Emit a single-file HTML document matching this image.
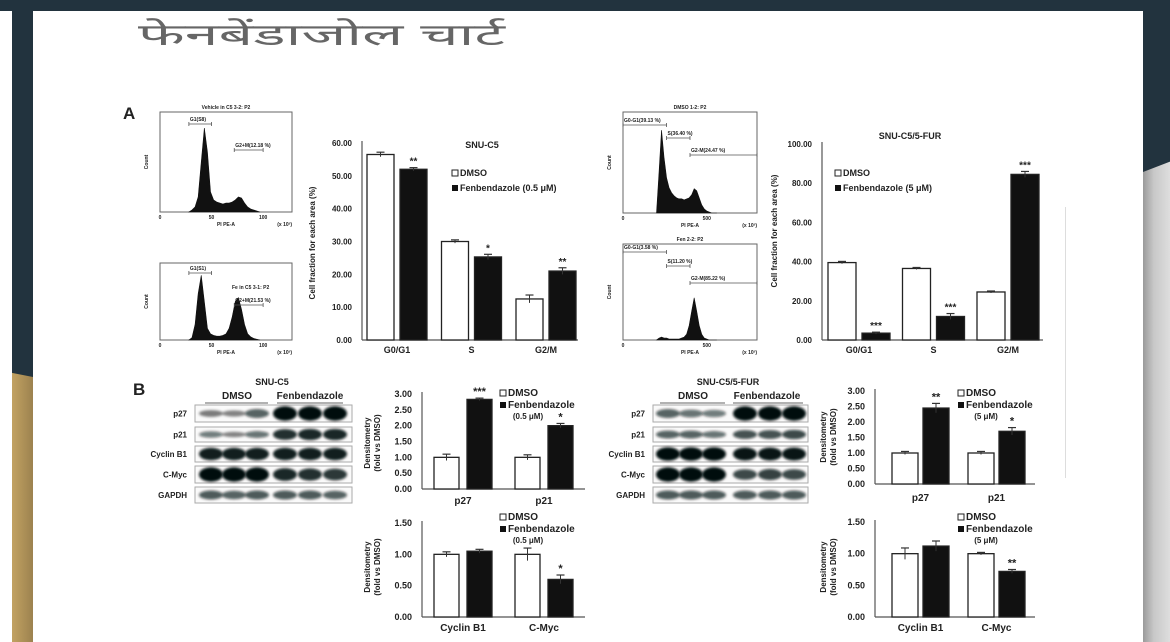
<!DOCTYPE html>
<html><head><meta charset="utf-8"><style>
html,body{margin:0;padding:0;width:1170px;height:642px;overflow:hidden;background:#fff}
#stage{position:relative;width:1170px;height:642px;background:#fff}
.abs{position:absolute}
svg text{font-family:"Liberation Sans",Arial,sans-serif;font-weight:bold;fill:#222}
</style></head><body>
<div id="stage">
  <div class="abs" style="left:0;top:0;width:1170px;height:11px;background:#22333e"></div>
  <div class="abs" style="left:12px;top:0;width:21px;height:642px;background:linear-gradient(90deg,#c2a262,#9c824f)"></div>
  <div class="abs" style="left:12px;top:0;width:21px;height:377px;background:#22333e;clip-path:polygon(0 0,100% 0,100% 100%,0 98.9%)"></div>
  <div class="abs" style="left:1143px;top:0;width:27px;height:642px;background:linear-gradient(90deg,#9a9a9a,#c8c8c8 40%,#dedede)"></div>
  <div class="abs" style="left:1143px;top:0;width:27px;height:172px;background:#22333e;clip-path:polygon(0 0,100% 0,100% 94%,0 100%)"></div>
  <div class="abs" style="left:1065px;top:207px;width:1px;height:271px;background:#ddd"></div>
  <svg id="fig" class="abs" style="left:0;top:0" width="1170" height="642">
    <defs><filter id="blur" x="-50%" y="-50%" width="200%" height="200%"><feGaussianBlur stdDeviation="1.3"/></filter></defs>
    <text x="138" y="45" style="font-family:'Liberation Sans','Noto Sans CJK SC',sans-serif;font-weight:normal;font-size:30px;fill:#666" textLength="367" lengthAdjust="spacingAndGlyphs">फेनबेंडाजोल चार्ट</text>
    <text x="123" y="119" font-size="17">A</text>
    <text x="133" y="395" font-size="17">B</text>
  </svg>
</div>
<script>
// ---------- data ----------
const cycleCategories=['G0/G1','S','G2/M'];
const a1Dmso=[56.5,30,12.5];
const a1DmsoErr=[0.7,0.5,1.2];
const a1Fen=[52,25.3,21];
const a1FenErr=[0.5,0.8,1.0];
const a1Sig=['**','*','**'];
const a1Ticks=[0,10,20,30,40,50,60];

const a2Dmso=[39.5,36.5,24.5];
const a2DmsoErr=[0.6,0.5,0.5];
const a2Fen=[3.5,12,84.5];
const a2FenErr=[0.5,1.5,1.5];
const a2Sig=['***','***','***'];
const a2Ticks=[0,20,40,60,80,100];

const bTopCategories=['p27','p21'];
const bBotCategories=['Cyclin B1','C-Myc'];
const bTopTicks=[0,0.5,1,1.5,2,2.5,3];
const bBotTicks=[0,0.5,1,1.5];

const b1Dmso=[1.0,1.0];
const b1DmsoErr=[0.1,0.08];
const b1Fen=[2.83,2.0];
const b1FenErr=[0.04,0.07];
const b1Sig=['***','*'];

const b2Dmso=[1.0,1.0];
const b2DmsoErr=[0.04,0.1];
const b2Fen=[1.05,0.6];
const b2FenErr=[0.03,0.07];
const b2Sig=['','*'];

const b3Dmso=[1.0,1.0];
const b3DmsoErr=[0.05,0.05];
const b3Fen=[2.45,1.7];
const b3FenErr=[0.15,0.12];
const b3Sig=['**','*'];

const b4Dmso=[1.0,1.0];
const b4DmsoErr=[0.09,0.02];
const b4Fen=[1.12,0.72];
const b4FenErr=[0.08,0.03];
const b4Sig=['','**'];

// flow histograms (relative counts, % of plot height)
const h1Counts=[0,2,5,15,50,84,60,20,12,10,9,8,9,9,10,12,15,14,9,5,3,2,1,0];
const h2Counts=[0,3,20,60,84,50,15,8,6,5,5,6,8,15,30,50,55,40,20,8,4,2,1,0];
const h3Counts=[0,40,82,55,35,25,20,17,15,14,14,13,14,15,18,24,22,15,8,4,2,1,0,0,0];
const h4Counts=[0,2,3,2,2,1,1,1,1,1,2,3,6,15,30,44,30,15,6,2,1,0,0,0,0];

// western blot band intensities (lanes 1-3 DMSO, 4-6 Fenbendazole)
const blotRows=['p27','p21','Cyclin B1','C-Myc','GAPDH'];
const blotC5=[[0.3,0.25,0.5,1,1,1],[0.35,0.25,0.4,0.8,0.85,0.85],[0.9,0.9,0.9,0.9,0.9,0.9],[1,1,1,0.85,0.8,0.75],[0.55,0.5,0.55,0.55,0.55,0.5]];
const blotFur=[[0.5,0.4,0.35,1,1,1],[0.5,0.5,0.4,0.6,0.6,0.65],[1,1,1,0.95,0.95,0.95],[1,1,1,0.65,0.7,0.65],[0.55,0.55,0.55,0.55,0.55,0.55]];

// ---------- drawing ----------
const NS='http://www.w3.org/2000/svg';
const svg=document.getElementById('fig');
function mk(tag,attrs,parent){const e=document.createElementNS(NS,tag);for(const k in attrs)e.setAttribute(k,attrs[k]);(parent||svg).appendChild(e);return e;}
function txt(x,y,s,size,anchor,parent){const t=mk('text',{x:x,y:y,'font-size':size,'text-anchor':anchor||'start'},parent);t.textContent=s;return t;}

function barChart(c){
  const g=mk('g',{});
  
  
  const yS=v=>c.baseY-(v/c.maxV)*(c.baseY-c.topY);
  const ax=mk('line',{x1:c.axisX,y1:yS(c.maxV)-2,x2:c.axisX,y2:c.baseY,stroke:'#555','stroke-width':1.2},g);
  
  
  const bx=mk('line',{x1:c.axisX,y1:c.baseY,x2:c.axisEnd,y2:c.baseY,stroke:'#555','stroke-width':1.2},g);
  
  
  c.ticks.forEach(t=>{
    const l=txt(c.axisX-10,yS(t)+3,t.toFixed(2),c.tickSize,'end',g);
    
    
  });
  c.cats.forEach((cat,i)=>{
    const x0=c.firstX+i*c.pitch, x1=x0+c.barW+c.gap;
    [[x0,c.dmso[i],c.dmsoErr[i],'#fff','dmso'],[x1,c.fen[i],c.fenErr[i],'#111','fen']].forEach(([x,v,e,f,k])=>{
      const r=mk('rect',{x:x,y:yS(v),width:c.barW,height:c.baseY-yS(v),fill:f,stroke:'#222','stroke-width':1.3},g);
      
      
      const cx=x+c.barW/2;
      mk('line',{x1:cx,y1:yS(v-e),x2:cx,y2:yS(v+e),stroke:'#333','stroke-width':1},g);
      mk('line',{x1:cx-4,y1:yS(v+e),x2:cx+4,y2:yS(v+e),stroke:'#333','stroke-width':1.2},g);
    });
    const s=c.sig[i];
    if(s){const st=txt(x1+c.barW/2,yS(c.fen[i]+c.fenErr[i])-3,s,c.tickSize+2,'middle',g);
      
      }
    const cl=txt(x0+c.barW+c.gap/2,c.baseY+c.catDy,cat,c.catSize,'middle',g);
    
    
  });
  if(c.title){const t=txt(c.titleX,c.titleY,c.title,c.tickSize+1,'middle',g);
    
    }
  const yt=mk('g',{transform:`translate(${c.yTitleX},${c.yTitleY}) rotate(-90)`},g);
  
  
  c.yTitle.forEach((line,j)=>txt(0,j*10,line,c.yTitleSize,'middle',yt));
  const lg=mk('g',{},g);
  
  
  mk('rect',{x:c.legX,y:c.legY-6,width:6,height:6,fill:'#fff',stroke:'#222','stroke-width':1},lg);
  txt(c.legX+8,c.legY,'DMSO',c.legSize,'start',lg);
  mk('rect',{x:c.legX,y:c.legY+c.legDy-6,width:6,height:6,fill:'#111'},lg);
  txt(c.legX+8,c.legY+c.legDy,c.legFen,c.legSize,'start',lg);
  if(c.legDose) txt(c.legX+28,c.legY+2*c.legDy-1,c.legDose,c.legSize-2,'middle',lg);
}

barChart({name:'chart-snu-c5-cell-cycle',axisX:362,baseY:340,topY:143,maxV:60,axisEnd:578,firstX:367,pitch:74.5,barW:27,gap:6,
  cats:cycleCategories,dmso:a1Dmso,dmsoErr:a1DmsoErr,fen:a1Fen,fenErr:a1FenErr,sig:a1Sig,ticks:a1Ticks,tickSize:8,catSize:9,catDy:13,
  title:'SNU-C5',titleX:482,titleY:148,yTitle:['Cell fraction for each area (%)'],yTitleX:315,yTitleY:243,yTitleSize:8,
  legX:452,legY:176,legDy:15,legFen:'Fenbendazole (0.5 μM)',legSize:9});
barChart({name:'chart-snu-c5-5fur-cell-cycle',axisX:822,baseY:340,topY:144,maxV:100,axisEnd:1043,firstX:828,pitch:74.5,barW:28,gap:6,
  cats:cycleCategories,dmso:a2Dmso,dmsoErr:a2DmsoErr,fen:a2Fen,fenErr:a2FenErr,sig:a2Sig,ticks:a2Ticks,tickSize:8,catSize:9,catDy:13,
  title:'SNU-C5/5-FUR',titleX:910,titleY:139,yTitle:['Cell fraction for each area (%)'],yTitleX:777,yTitleY:231,yTitleSize:8,
  legX:835,legY:176,legDy:15,legFen:'Fenbendazole (5 μM)',legSize:9});
barChart({name:'chart-snu-c5-p27-p21',axisX:422,baseY:489,topY:394,maxV:3,axisEnd:585,firstX:434,pitch:81,barW:25,gap:8,
  cats:bTopCategories,dmso:b1Dmso,dmsoErr:b1DmsoErr,fen:b1Fen,fenErr:b1FenErr,sig:b1Sig,ticks:bTopTicks,tickSize:9,catSize:10,catDy:15,
  yTitle:['Densitometry','(fold vs DMSO)'],yTitleX:370,yTitleY:443,yTitleSize:8,
  legX:500,legY:396,legDy:12,legFen:'Fenbendazole',legDose:'(0.5 μM)',legSize:10});
barChart({name:'chart-snu-c5-cyclinb1-cmyc',axisX:422,baseY:617,topY:523,maxV:1.5,axisEnd:585,firstX:434,pitch:81,barW:25,gap:8,
  cats:bBotCategories,dmso:b2Dmso,dmsoErr:b2DmsoErr,fen:b2Fen,fenErr:b2FenErr,sig:b2Sig,ticks:bBotTicks,tickSize:9,catSize:10,catDy:14,
  yTitle:['Densitometry','(fold vs DMSO)'],yTitleX:370,yTitleY:567,yTitleSize:8,
  legX:500,legY:520,legDy:12,legFen:'Fenbendazole',legDose:'(0.5 μM)',legSize:10});
barChart({name:'chart-5fur-p27-p21',axisX:875,baseY:484,topY:391,maxV:3,axisEnd:1035,firstX:892,pitch:76,barW:26,gap:5,
  cats:bTopCategories,dmso:b3Dmso,dmsoErr:b3DmsoErr,fen:b3Fen,fenErr:b3FenErr,sig:b3Sig,ticks:bTopTicks,tickSize:9,catSize:10,catDy:17,
  yTitle:['Densitometry','(fold vs DMSO)'],yTitleX:826,yTitleY:437,yTitleSize:8,
  legX:958,legY:396,legDy:12,legFen:'Fenbendazole',legDose:'(5 μM)',legSize:10});
barChart({name:'chart-5fur-cyclinb1-cmyc',axisX:875,baseY:617,topY:522,maxV:1.5,axisEnd:1035,firstX:892,pitch:76,barW:26,gap:5,
  cats:bBotCategories,dmso:b4Dmso,dmsoErr:b4DmsoErr,fen:b4Fen,fenErr:b4FenErr,sig:b4Sig,ticks:bBotTicks,tickSize:9,catSize:10,catDy:14,
  yTitle:['Densitometry','(fold vs DMSO)'],yTitleX:826,yTitleY:567,yTitleSize:8,
  legX:958,legY:520,legDy:12,legFen:'Fenbendazole',legDose:'(5 μM)',legSize:10});

// histograms
function hist(c){
  const g=mk('g',{});
  
  
  const w=c.x1-c.x0,h=c.y1-c.y0;
  const xs=v=>c.x0+(v-c.dMin)/(c.dMax-c.dMin)*w;
  mk('rect',{x:c.x0,y:c.y0,width:w,height:h,fill:'none',stroke:'#666','stroke-width':1},g);
  let d=`M${xs(c.start)},${c.y1}`;
  c.counts.forEach((v,i)=>{d+=` L${xs(c.start+i*c.step)},${c.y1-v/100*h}`;});
  d+=` L${xs(c.start+(c.counts.length-1)*c.step)},${c.y1} Z`;
  const p=mk('path',{d:d,fill:'#111',stroke:'#111','stroke-width':0.6},g);
  
  
  c.xt.forEach(t=>txt(xs(t),c.y1+7,String(t),5,'middle',g));
  txt((c.x0+c.x1)/2,c.y1+14,'PI PE-A',5,'middle',g);
  txt(c.x1,c.y1+14,'(x 10³)',5,'end',g);
  if(c.title) txt((c.x0+c.x1)/2,c.y0-3,c.title,5,'middle',g);
  if(c.inner) txt(c.inner[0],c.inner[1],c.inner[2],5,'start',g);
  const yl=mk('g',{transform:`translate(${c.x0-12},${(c.y0+c.y1)/2}) rotate(-90)`},g);
  txt(0,0,'Count',5,'middle',yl);
  c.gates.forEach(([a,b,yy,lab])=>{
    mk('line',{x1:xs(a),y1:yy,x2:xs(b),y2:yy,stroke:'#555','stroke-width':0.8},g);
    mk('line',{x1:xs(a),y1:yy-2,x2:xs(a),y2:yy+2,stroke:'#555','stroke-width':0.8},g);
    mk('line',{x1:xs(b),y1:yy-2,x2:xs(b),y2:yy+2,stroke:'#555','stroke-width':0.8},g);
    txt(xs(a)+1,yy-3,lab,5,'start',g);
  });
}
hist({name:'flow-histogram-c5-vehicle',x0:160,x1:292,y0:112,y1:212,dMin:0,dMax:128,start:28,step:3,counts:h1Counts,xt:[0,50,100],title:'Vehicle in C5 3-2: P2',gates:[[28,50,124,'G1(S8)'],[72,100,150,'G2+M(12.18 %)']]});
hist({name:'flow-histogram-c5-fen',x0:160,x1:292,y0:263,y1:340,dMin:0,dMax:128,start:28,step:3,counts:h2Counts,xt:[0,50,100],title:'',inner:[232,289,'Fe in C5 3-1: P2'],gates:[[28,50,273,'G1(S1)'],[72,100,305,'G2+M(21.53 %)']]});
hist({name:'flow-histogram-5fur-dmso',x0:623,x1:757,y0:112,y1:213,dMin:0,dMax:800,start:200,step:15,counts:h3Counts,xt:[0,500],title:'DMSO 1-2: P2',gates:[[0,260,125,'G0-G1(39.13 %)'],[260,400,138,'S(36.40 %)'],[400,800,155,'G2-M(24.47 %)']]});
hist({name:'flow-histogram-5fur-fen',x0:623,x1:757,y0:244,y1:340,dMin:0,dMax:800,start:200,step:15,counts:h4Counts,xt:[0,500],title:'Fen 2-2: P2',gates:[[0,260,252,'G0-G1(3.58 %)'],[260,400,266,'S(11.20 %)'],[400,800,283,'G2-M(85.22 %)']]});

// western blots
function blot(c){
  const g=mk('g',{});
  
  
  txt(c.titleX,385,c.title,9,'middle',g);
  txt(c.dmsoX,399,'DMSO',10,'middle',g);
  txt(c.fenX,399,'Fenbendazole',10,'middle',g);
  mk('line',{x1:c.ul[0],y1:403,x2:c.ul[1],y2:403,stroke:'#666','stroke-width':1},g);
  mk('line',{x1:c.ul[2],y1:403,x2:c.ul[3],y2:403,stroke:'#666','stroke-width':1},g);
  const rowsY=[[405,422],[427,442],[446,462],[466,483],[487,503]];
  blotRows.forEach((r,ri)=>{
    const [y0,y1]=rowsY[ri];
    const row=mk('g',{},g);
    
    
    mk('rect',{x:c.x0,y:y0,width:c.x1-c.x0,height:y1-y0,fill:'#fafafa',stroke:'#aaa','stroke-width':1},row);
    txt(c.x0-8,(y0+y1)/2+3,r,8,'end',row);
    c.data[ri].forEach((v,li)=>{
      const cx=c.lanes[li],hh=(y1-y0)*(0.2+0.65*v);
      mk('ellipse',{cx:cx,cy:(y0+y1)/2,rx:12,ry:hh/2,fill:`rgba(0,12,12,${0.3+0.7*v})`,filter:'url(#blur)'},row);
    });
  });
}
blot({name:'western-blot-snu-c5',title:'SNU-C5',titleX:272,dmsoX:237,fenX:310,ul:[205,268,277,343],x0:195,x1:352,lanes:[211,234,257,285,310,335],data:blotC5});
blot({name:'western-blot-snu-c5-5fur',title:'SNU-C5/5-FUR',titleX:728,dmsoX:693,fenX:767,ul:[660,725,733,803],x0:653,x1:808,lanes:[668,691,714,745,770,794],data:blotFur});
</script>
</body></html>
